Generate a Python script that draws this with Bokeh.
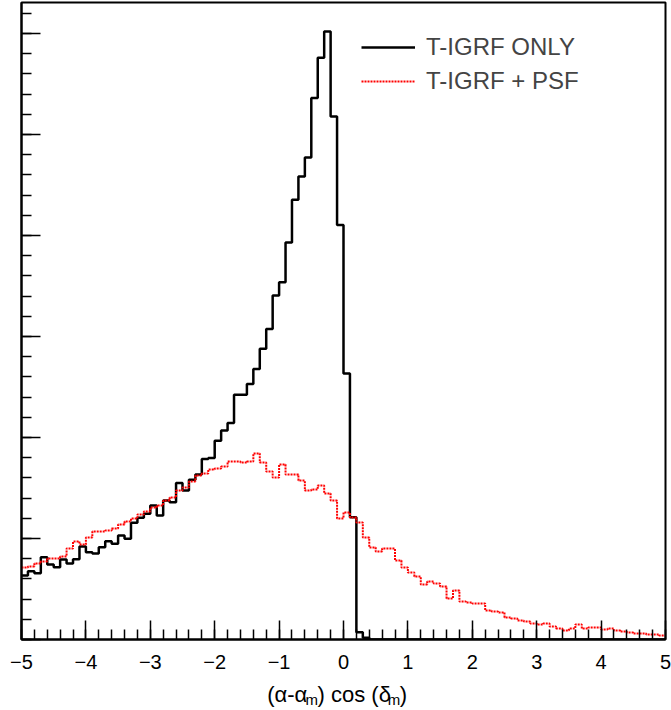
import numpy as np
from bokeh.plotting import figure
from bokeh.layouts import column
from bokeh.models import Range1d, Legend, LegendItem, SingleIntervalTicker, CustomJSTickFormatter
from bokeh.core.properties import value
from bokeh.embed import file_html
from bokeh.resources import INLINE

# Histogram binning on (alpha - alpha_m) cos(delta_m)
x_min, x_max, n_bins = -5.0, 5.0, 100

# Bin contents, T-IGRF only (black, solid)
igrf_only = [
    63.4, 67.6, 65.6, 81.5, 74.3, 71.6, 79.2, 75.2, 79.5, 92.1,
    86.4, 85.1, 91.4, 97.3, 94.8, 103.0, 99.7, 115.5, 120.5, 124.5,
    132.7, 122.8, 137.6, 135.9, 155.0, 147.5, 158.1, 163.4, 178.7, 179.7,
    196.7, 206.9, 214.4, 242.3, 242.3, 253.0, 267.8, 287.8, 307.4, 340.6,
    353.8, 393.1, 435.3, 458.4, 477.2, 536.1, 575.9, 602.0, 517.8, 410.4,
    263.4, 121.1, 7.2, 1.7, 0, 0, 0, 0, 0, 0,
    0, 0, 0, 0, 0, 0, 0, 0, 0, 0,
    0, 0, 0, 0, 0, 0, 0, 0, 0, 0,
    0, 0, 0, 0, 0, 0, 0, 0, 0, 0,
    0, 0, 0, 0, 0, 0, 0, 0, 0, 0,
]

# Bin contents, T-IGRF + PSF (red, dotted)
igrf_psf = [
    71.3, 72.3, 75.2, 77.2, 80.2, 80.2, 82.2, 90.1, 97.0, 94.1,
    101.0, 106.9, 106.9, 107.9, 109.9, 113.9, 116.8, 119.8, 123.8, 126.7,
    130.7, 132.7, 137.6, 140.6, 147.5, 150.5, 156.4, 162.4, 164.4, 168.3,
    169.3, 171.3, 176.2, 176.2, 175.2, 176.2, 184.2, 175.2, 166.3, 160.4,
    173.3, 163.4, 163.4, 157.4, 147.5, 148.5, 152.5, 144.6, 137.6, 119.8,
    125.7, 120.8, 115.8, 101.0, 91.1, 87.1, 90.1, 90.1, 78.2, 71.3,
    66.3, 62.4, 54.5, 57.4, 55.4, 52.5, 40.6, 48.5, 37.6, 36.6,
    35.6, 35.6, 28.7, 27.7, 26.7, 21.8, 20.8, 18.8, 17.8, 15.8,
    14.9, 15.8, 12.9, 10.9, 8.9, 10.9, 14.9, 10.9, 11.9, 11.9,
    9.9, 10.9, 8.9, 7.9, 6.9, 5.9, 5.9, 5.0, 5.0, 4.0,
]

x_ticks_step = 1
y_ticks_step = 100
y_top = 630.7

edges = np.linspace(x_min, x_max, n_bins + 1)


def step_y(counts):
    c = np.asarray(counts, dtype=float)
    return np.append(c, c[-1])


FONT = "Liberation Sans"
W = 671
MAIN_H = 679
TITLE_H = 710 - MAIN_H

p = figure(
    width=W, height=MAIN_H,
    output_backend="svg", toolbar_location=None,
    x_range=Range1d(x_min, x_max), y_range=Range1d(0, y_top),
    min_border_left=21, min_border_right=6, min_border_top=2, min_border_bottom=40,
)
p.grid.visible = False
p.background_fill_color = "white"
p.border_fill_color = "white"
p.outline_line_color = "black"
p.outline_line_width = 2

black = p.step(edges, step_y(igrf_only), mode="after",
               line_color="black", line_width=2.5)
red = p.step(edges, step_y(igrf_psf), mode="after",
             line_color="#ff0000", line_width=2, line_dash="2 1")

# x axis: ticks drawn inward
xa = p.xaxis[0]
xa.ticker = SingleIntervalTicker(interval=x_ticks_step, num_minor_ticks=5)
xa.axis_line_width = 2
xa.major_tick_in = 19
xa.major_tick_out = 0
xa.minor_tick_in = 10
xa.minor_tick_out = 0
xa.major_tick_line_width = 1.5
xa.minor_tick_line_width = 1.5
xa.major_label_standoff = 15
xa.major_label_text_font = FONT
xa.major_label_text_font_size = "20px"
xa.major_label_text_color = "black"

# y axis: tick marks only
ya = p.yaxis[0]
ya.ticker = SingleIntervalTicker(interval=y_ticks_step, num_minor_ticks=5)
ya.formatter = CustomJSTickFormatter(code="return ''")
ya.axis_line_width = 2
ya.major_tick_in = 19
ya.major_tick_out = 0
ya.minor_tick_in = 10
ya.minor_tick_out = 0
ya.major_tick_line_width = 1.5
ya.minor_tick_line_width = 1.5
ya.major_label_standoff = 0

legend = Legend(
    items=[LegendItem(label="T-IGRF ONLY", renderers=[black]),
           LegendItem(label="T-IGRF + PSF", renderers=[red])],
    location=(340, 544),
    glyph_width=54, glyph_height=28, label_height=28, spacing=6,
    padding=0, margin=0, label_standoff=11,
    border_line_alpha=0, background_fill_alpha=0,
    label_text_font=FONT, label_text_font_size="24px",
)
p.add_layout(legend)

# x-axis title strip, coordinates in pixels from the strip's top-left
t = figure(
    width=W, height=TITLE_H,
    output_backend="svg", toolbar_location=None,
    x_range=Range1d(0, W), y_range=Range1d(TITLE_H, 0),
    x_axis_location=None, y_axis_location=None,
    min_border=0,
)
t.grid.visible = False
t.outline_line_color = None
t.background_fill_color = "white"
t.border_fill_color = "white"

main_size, sub_size = 22, 15
baseline, sub_drop = 15, 5
pieces = [
    ("(α-α", main_size, 0, 40.0),
    ("m", sub_size, sub_drop, 12.5),
    (") cos (δ", main_size, 0, 73.2),
    ("m", sub_size, sub_drop, 12.5),
    (")", main_size, 0, 7.3),
]
xpos = 256.0
for txt, size, dy, adv in pieces:
    t.text(x=[xpos], y=[baseline + dy], text=[txt],
           text_font=value(FONT), text_font_size=f"{size}px",
           text_color="black", text_baseline="alphabetic", text_align="left")
    xpos += adv

open("out.html", "w").write(file_html(column(p, t, spacing=0), INLINE))
